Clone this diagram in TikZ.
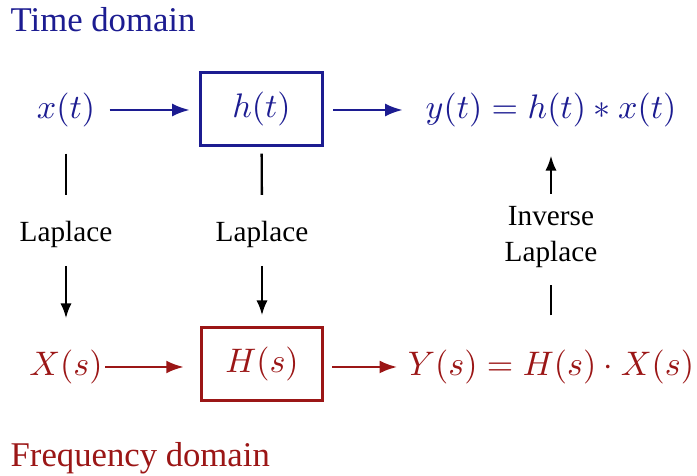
\documentclass[tikz,border=0pt]{standalone}
\usepackage{fontspec}
\setmainfont{Liberation Serif}
\newfontfamily\labelfont{Liberation Serif}
\usetikzlibrary{arrows.meta}
\definecolor{timeblue}{RGB}{28,28,145}
\definecolor{freqred}{RGB}{155,22,22}

\begin{document}
\begin{tikzpicture}[
    x=0.294pt, y=0.294pt,
    sysbox/.style={rectangle, draw, line width=0.9pt, minimum width=35.6pt, minimum height=21.3pt, inner sep=0pt},
    signal/.style={inner sep=0pt},
    harrow/.style={-{Latex[length=5.2pt, width=3.8pt]}, line width=0.8pt},
    varrow/.style={-{Latex[length=4.4pt, width=3.3pt]}, line width=0.7pt},
    vline/.style={line width=0.7pt},
    lbl/.style={font=\labelfont\fontsize{8.6}{10.6}\selectfont, align=center, inner sep=0pt},
    domlabel/.style={font=\labelfont\fontsize{10.2}{12}\selectfont, anchor=base west, inner sep=0pt}
]
\useasboundingbox (0,0) rectangle (697,-476);

% Dominio del tempo
\node[domlabel, text=timeblue] (tdom) at (10,-32) {Time domain};
\node[signal, text=timeblue] (xt) at (66,-110) {$x(t)$};
\node[sysbox, draw=timeblue, text=timeblue] (ht) at (261.5,-109) {$h(t)$};
\node[signal, text=timeblue] (yt) at (551,-110) {$y(t) = h(t) * x(t)$};

% Dominio della frequenza
\node[signal, text=freqred] (Xs) at (66,-367) {$X(s)$};
\node[sysbox, draw=freqred, text=freqred] (Hs) at (262,-364) {$H(s)$};
\node[signal, text=freqred] (Ys) at (551,-367) {$Y(s) = H(s)\cdot X(s)$};
\node[domlabel, text=freqred] (fdom) at (10,-467) {Frequency domain};

% Etichette delle trasformate
\node[lbl] (lap1) at (66,-234) {Laplace};
\node[lbl] (lap2) at (262,-234) {Laplace};
\node[lbl] (inv) at (551,-237) {Inverse\\Laplace};

% Connessioni orizzontali
\draw[harrow, timeblue, shorten <=4.1pt, shorten >=2.8pt] (xt) -- (xt -| ht.west);
\draw[harrow, timeblue, shorten <=2.9pt, shorten >=6.5pt] (ht.east |- yt) -- (yt);
\draw[harrow, freqred, shorten <=0.6pt, shorten >=4.7pt] (Xs) -- (Xs -| Hs.west);
\draw[harrow, freqred, shorten <=2.4pt, shorten >=2.9pt] (Hs.east |- Ys) -- (Ys);

% Connessioni verticali
\draw[vline, shorten <=7.6pt, shorten >=7.4pt] (xt) -- (lap1);
\draw[varrow, shorten <=5.3pt, shorten >=9.1pt] (lap1) -- (Xs);
\draw[vline, shorten <=2pt, shorten >=7.4pt] (ht) -- (lap2);
\draw[varrow, shorten <=5.3pt, shorten >=3.2pt] (lap2) -- (Hs);
\draw[vline, shorten <=10pt, shorten >=5pt] (Ys) -- (inv);
\draw[varrow, shorten <=3.5pt, shorten >=8.2pt] (inv) -- (yt);

\end{tikzpicture}
\end{document}
